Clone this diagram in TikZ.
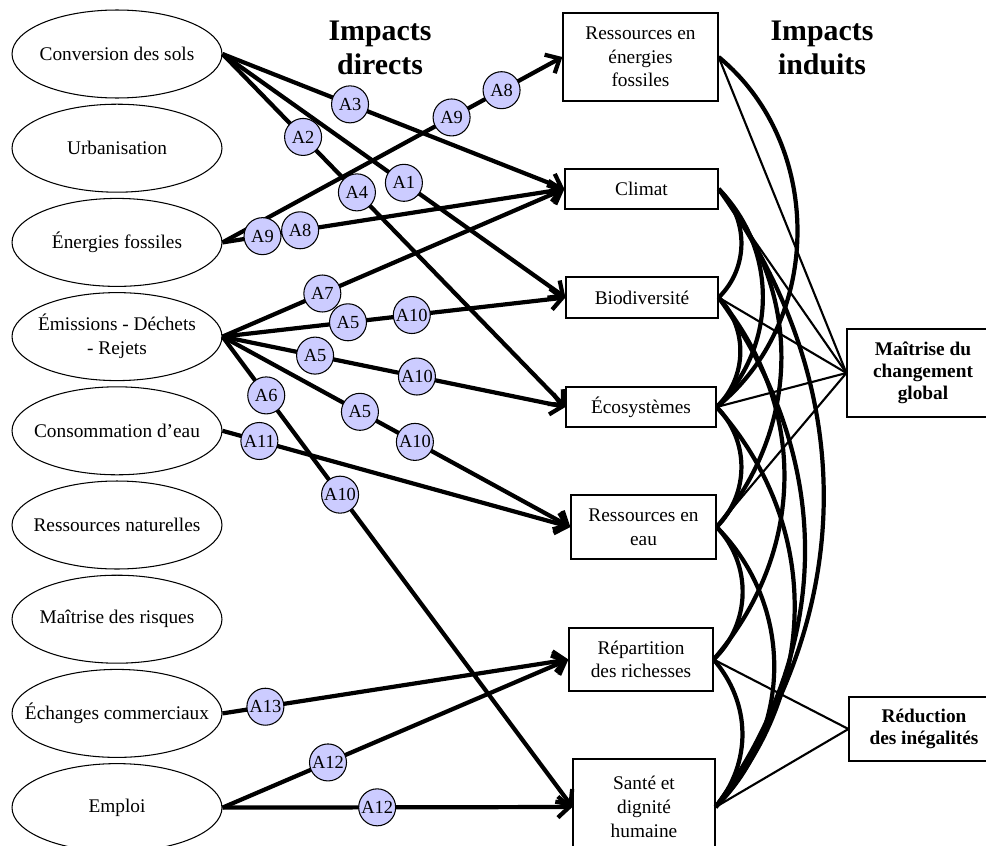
\documentclass[tikz,border=0pt]{standalone}
\usepackage{fontspec}
\setmainfont{Liberation Serif}
\usetikzlibrary{arrows.meta, shapes.geometric}
\definecolor{lavande}{RGB}{204,204,255}

\begin{document}
\begin{tikzpicture}[x=0.02cm, y=-0.02cm, >={Straight Barb[length=6.5pt,width=12pt]},
    enjeu/.style={ellipse, draw, line width=0.6pt, minimum width=4.2cm, minimum height=1.76cm, inner xsep=-0.4cm, inner ysep=0pt, align=center, font=\fontsize{11}{13.5}\selectfont},
    impact/.style={rectangle, draw, line width=0.7pt, inner sep=0pt, align=center, font=\fontsize{11}{13.5}\selectfont},
    finalite/.style={impact, font=\fontsize{11}{12.5}\selectfont\bfseries},
    titre/.style={align=center, font=\fontsize{17}{19}\selectfont\bfseries},
    acte/.style={circle, draw, fill=lavande, line width=0.6pt, minimum size=0.74cm, inner sep=0pt, font=\fontsize{10.5}{10.5}\selectfont},
    fleche/.style={->, line width=2.4pt},
    lien/.style={line width=2.4pt},
    trait/.style={line width=1.2pt}]
        \useasboundingbox (0,0) rectangle (986,845);
        \node[enjeu] (sols) at (117,54) {Conversion des sols};
        \node[enjeu] (urba) at (117,148.2) {Urbanisation};
        \node[enjeu] (fossile) at (117,242.4) {Énergies fossiles};
        \node[enjeu] (emis) at (117,336.6) {Émissions - Déchets\\- Rejets};
        \node[enjeu] (conso) at (117,430.8) {Consommation d’eau};
        \node[enjeu] (natur) at (117,525) {Ressources naturelles};
        \node[enjeu] (risque) at (117,619.2) {Maîtrise des risques};
        \node[enjeu] (echange) at (117,713.4) {Échanges commerciaux};
        \node[enjeu] (emploi) at (117,807.6) {Emploi};
        \node[titre] (direct) at (380,48) {Impacts\\directs};
        \node[titre] (induit) at (822,48) {Impacts\\induits};
        \node[impact, minimum width=3.1cm, minimum height=1.76cm] (ressfos) at (640.5,57) {Ressources en\\énergies\\fossiles};
        \node[impact, minimum width=3.06cm, minimum height=0.8cm] (climat) at (641.5,189) {Climat};
        \node[impact, minimum width=3.04cm, minimum height=0.82cm] (bio) at (642,297.5) {Biodiversité};
        \node[impact, minimum width=3cm, minimum height=0.8cm] (eco) at (641,407) {Écosystèmes};
        \node[impact, minimum width=2.9cm, minimum height=1.28cm] (resseau) at (643.5,527) {Ressources en\\eau};
        \node[impact, minimum width=2.88cm, minimum height=1.26cm] (repart) at (641,659.5) {Répartition\\des richesses};
        \node[impact, minimum width=2.84cm, minimum height=1.92cm] (sante) at (644,807) {Santé et\\dignité\\humaine};
        \node[finalite, minimum width=3.04cm, minimum height=1.76cm] (global) at (923,373) {Maîtrise du\\changement\\global};
        \node[finalite, minimum width=3cm, minimum height=1.28cm] (inegal) at (924,729) {Réduction\\des inégalités};
        \draw[fleche] (sols.east) -- node[acte, pos=.373]{A3} (climat.west);
        \draw[fleche] (sols.east) -- node[acte, pos=.529]{A1} (bio.west);
        \draw[fleche] (sols.east) -- node[acte, pos=.235]{A2} node[acte, pos=.392]{A4} (eco.west);
        \draw[fleche] (fossile.east) -- node[acte, pos=.674]{A9} node[acte, pos=.821]{A8} (ressfos.west);
        \draw[fleche] (fossile.east) -- node[acte, pos=.117]{A9} node[acte, pos=.227]{A8} (climat.west);
        \draw[fleche] (emis.east) -- node[acte, pos=.292]{A7} (climat.west);
        \draw[fleche] (emis.east) -- node[acte, pos=.366]{A5} node[acte, pos=.552]{A10} (bio.west);
        \draw[fleche] (emis.east) -- node[acte, pos=.270]{A5} node[acte, pos=.567]{A10} (eco.west);
        \draw[fleche] (emis.east) -- node[acte, pos=.395]{A5} node[acte, pos=.553]{A10} (resseau.west);
        \draw[fleche] (emis.east) -- node[acte, pos=.125]{A6} node[acte, pos=.336]{A10} (sante.west);
        \draw[fleche] (conso.east) -- node[acte, pos=.106]{A11} (resseau.west);
        \draw[fleche] (echange.east) -- node[acte, pos=.124]{A13} (repart.west);
        \draw[fleche] (emploi.east) -- node[acte, pos=.305]{A12} (repart.west);
        \draw[fleche] (emploi.east) -- node[acte, pos=.442]{A12} (sante.west);
        \draw[trait] (ressfos.east) -- (global.west);
        \draw[trait] (climat.east) -- (global.west);
        \draw[trait] (bio.east) -- (global.west);
        \draw[trait] (eco.east) -- (global.west);
        \draw[trait] (resseau.east) -- (global.west);
        \draw[trait] (repart.east) -- (inegal.west);
        \draw[trait] (sante.east) -- (inegal.west);
        \draw[lien] (ressfos.east) to[bend left=51] (eco.east);
        \draw[lien] (climat.east) to[bend left=46] (bio.east);
        \draw[lien] (climat.east) to[bend left=45] (eco.east);
        \draw[lien] (climat.east) to[bend left=40] (resseau.east);
        \draw[lien] (climat.east) to[bend left=36] (sante.east);
        \draw[lien] (bio.east) to[bend left=45] (eco.east);
        \draw[lien] (bio.east) to[bend left=40] (repart.east);
        \draw[lien] (bio.east) to[bend left=36] (sante.east);
        \draw[lien] (eco.east) to[bend left=45] (resseau.east);
        \draw[lien] (eco.east) to[bend left=42] (sante.east);
        \draw[lien] (resseau.east) to[bend left=45] (repart.east);
        \draw[lien] (resseau.east) to[bend left=45] (sante.east);
        \draw[lien] (repart.east) to[bend left=40] (sante.east);
    \end{tikzpicture}
\end{document}
